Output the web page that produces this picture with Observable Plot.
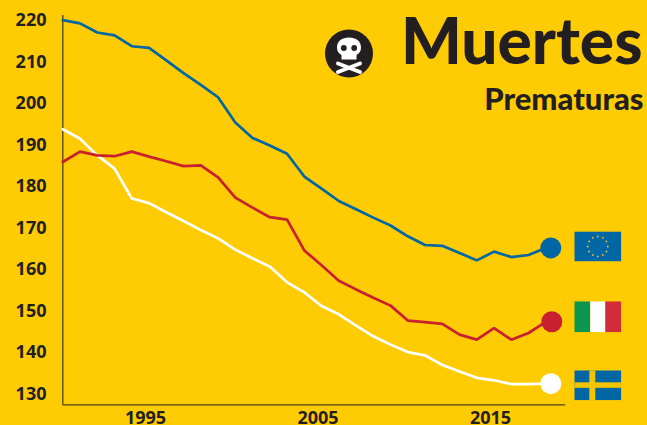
<!DOCTYPE html>
<html><head><meta charset="utf-8">
<script src="https://cdn.jsdelivr.net/npm/d3@7"></script>
<script src="https://cdn.jsdelivr.net/npm/@observablehq/plot@0.6"></script>
<style>html,body{margin:0;padding:0;background:#FFCC03;overflow:hidden}svg{display:block}</style>
</head><body><div id="chart"></div>
<script>
const years = d3.range(1990, 2019);
const ue = [220.1,219.3,217.1,216.4,213.8,213.4,210.4,207.3,204.5,201.5,195.4,191.7,189.9,187.9,182.4,179.5,176.5,174.5,172.5,170.6,168,165.9,165.7,164,162.2,164.3,163,163.5,165.2];
const italia = [185.9,188.4,187.5,187.3,188.4,187.2,186.1,184.9,185.1,182.2,177.3,174.9,172.6,172,164.6,161,157.3,155.2,153.2,151.3,147.7,147.3,146.9,144.3,143.1,145.9,143.1,144.7,147.4];
const suecia = [193.8,191.5,187.5,184.3,177.1,176,173.8,171.7,169.5,167.5,164.8,162.7,160.7,156.9,154.5,151.2,149.2,146.5,143.9,141.9,140.1,139.3,137,135.4,133.9,133.3,132.4,132.4,132.5];
const yTicks = [130,140,150,160,170,180,190,200,210,220];
const xTicks = [1995,2005,2015];
const ink = "#231F20", axisInk = "#4A4322", font = "'Open Sans', sans-serif", titleFont = "Lato, sans-serif";
const azul = "#0066A4", rojo = "#C8202F";

const svgUri = s => "data:image/svg+xml;charset=utf-8," + encodeURIComponent(s);
const stars = d3.range(12).map(i => {
  const a = i * Math.PI / 6;
  return `<circle cx="${23.5 + 10 * Math.sin(a)}" cy="${15 + 10 * Math.cos(a)}" r="1" fill="#D9B83A"/>`;
}).join("");
const flagUE = svgUri(`<svg xmlns="http://www.w3.org/2000/svg" width="47" height="30"><rect width="47" height="30" fill="${azul}"/>${stars}</svg>`);
const flagIT = svgUri(`<svg xmlns="http://www.w3.org/2000/svg" width="47" height="31"><rect width="16" height="31" fill="#0A964E"/><rect x="16" width="15" height="31" fill="#fff"/><rect x="31" width="16" height="31" fill="#D22B3A"/></svg>`);
const flagSE = svgUri(`<svg xmlns="http://www.w3.org/2000/svg" width="47" height="30"><rect width="47" height="30" fill="${azul}"/><rect x="15" width="6" height="30" fill="#F5C400"/><rect y="12" width="47" height="5.500" fill="#F5C400"/></svg>`);
const skull = svgUri(`<svg xmlns="http://www.w3.org/2000/svg" width="50" height="50" viewBox="0 0 50 50">
<circle cx="25" cy="25" r="24" fill="${ink}"/>
<path d="M25 9c-7 0-12 3.500-12 10 0 4 2 6 4.500 7.500v4.500h15v-4.500c2.500-1.500 4.500-3.500 4.500-7.500 0-6.500-5-10-12-10z" fill="#fff"/>
<circle cx="19.800" cy="19.500" r="2.900" fill="${ink}"/><circle cx="30.200" cy="19.500" r="2.900" fill="${ink}"/>
<path d="M14 35l22 8.500M36 35l-22 8.500" stroke="#fff" stroke-width="4" stroke-linecap="round"/></svg>`);

const table = vals => years.map((y, i) => ({year: y, value: vals[i]}));
const last = a => [{year: years[years.length - 1], value: a[a.length - 1]}];
const serie = (vals, color, dx) => [
  Plot.line(table(vals), {x: "year", y: "value", stroke: color, strokeWidth: 2.7, strokeLinejoin: "miter"}),
  Plot.dot(last(vals), {x: "year", y: "value", fill: color, r: 10.5, dx})
];
const flag = (vals, src, h, dy) => Plot.image(last(vals), {x: "year", y: "value", src: () => src, width: 47, height: h, dx: 52, dy, preserveAspectRatio: "none"});

const plot = Plot.plot({
  width: 647, height: 425,
  marginTop: 0, marginRight: 0, marginBottom: 0, marginLeft: 0,
  style: {background: "#FFCC03", fontFamily: font, overflow: "hidden"},
  x: {domain: [1990, 2018], range: [62.3, 545.3], axis: null},
  y: {domain: [130, 220], range: [393.5, 20], axis: null},
  marks: [
    Plot.ruleX([1990], {y1: 127.4, y2: 221.2, stroke: axisInk, strokeWidth: 1.3}),
    Plot.ruleY([127.4], {x1: 1990, x2: 2019.15, stroke: axisInk, strokeWidth: 1.3}),
    Plot.axisY({ticks: yTicks, tickSize: 0, anchor: "left", frameAnchor: "left", tickFormat: d => String(d), label: null, fontSize: 18, fontWeight: 700, fill: ink, tickPadding: 0, dx: 46, fontFamily: font}),
    Plot.axisX({ticks: xTicks, tickSize: 0, anchor: "bottom", tickFormat: d => String(d), label: null, fontSize: 18, fontWeight: 700, fill: ink, dx: -3.5, dy: -14, tickPadding: 0, fontFamily: font}),
    ...serie(suecia, "#fff", 5),
    ...serie(italia, rojo, 6),
    ...serie(ue, azul, 5),
    flag(ue, flagUE, 30, -1.5),
    flag(italia, flagIT, 31, -5),
    flag(suecia, flagSE, 30, 1.7),
    Plot.image([0], {frameAnchor: "top-left", src: () => skull, width: 50, height: 50, dx: 348.5, dy: 53, preserveAspectRatio: "none"}),
    Plot.text(["Muertes"], {frameAnchor: "top-right", dx: -5, dy: 18, fontSize: 64, fontWeight: 900, fill: ink, fontFamily: titleFont, lineAnchor: "top"}),
    Plot.text(["Prematuras"], {frameAnchor: "top-right", dx: -4, dy: 87, fontSize: 31, fontWeight: 900, fill: ink, fontFamily: titleFont, lineAnchor: "top"})
  ]
});
document.getElementById("chart").append(plot);
</script></body></html>
